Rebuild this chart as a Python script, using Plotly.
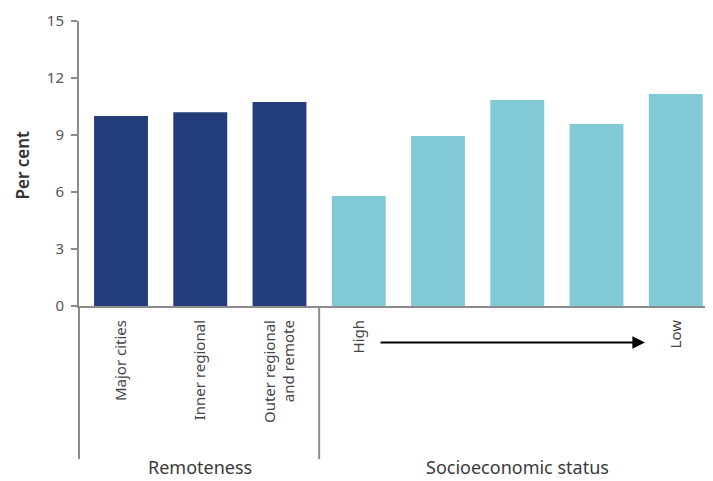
import plotly.graph_objects as go

categories = ["Major cities", "Inner regional", "Outer regional and remote",
              "SES 1", "SES 2", "SES 3", "SES 4", "SES 5"]
tick_labels = ["Major cities", "Inner regional", "Outer regional<br>and remote",
               "High", "", "", "", "Low"]
values = [10.0, 10.2, 10.74, 5.79, 8.95, 10.84, 9.58, 11.16]
groups = ["Remoteness"] * 3 + ["Socioeconomic status"] * 5
group_names = ["Remoteness", "Socioeconomic status"]
group_colors = {"Remoteness": "#233D7B", "Socioeconomic status": "#81C9D4"}
y_ticks = [0, 3, 6, 9, 12, 15]

FONT = "Noto Sans"
GREY = "#8C8C8C"
OFF = 8  # page body margin

fig = go.Figure()
fig.add_trace(go.Bar(
    x=categories, y=values,
    marker=dict(color=[group_colors[g] for g in groups], line=dict(width=0)),
    showlegend=False, hoverinfo="x+y",
))

W, H = 713 - OFF, 481 - OFF
ml, mr, mt, mb = 79 - OFF, 0, 21 - OFF, 175
ph = H - mt - mb
pw = W - ml - mr

def py(page_y):
    return (306 - page_y) / ph

def px(page_x):
    return (page_x - 79) / pw

fig.update_layout(
    width=W, height=H,
    margin=dict(l=ml, r=mr, t=mt, b=mb),
    plot_bgcolor="white", paper_bgcolor="white",
    bargap=0.32,
    font=dict(family=FONT, color="#444444", size=14),
    xaxis=dict(
        type="category",
        range=[-0.53, 7.47],
        tickmode="array", tickvals=categories, ticktext=tick_labels,
        tickangle=-90,
        ticks="outside", ticklen=6, tickcolor="rgba(0,0,0,0)",
        showline=True, linecolor=GREY, linewidth=2,
        showgrid=False, zeroline=False,
        tickfont=dict(size=15, color="#444444"),
    ),
    yaxis=dict(
        range=[0, 15],
        tickvals=y_ticks,
        ticks="outside", ticklen=6, tickcolor=GREY, tickwidth=2,
        ticklabelstandoff=4,
        showline=True, linecolor=GREY, linewidth=2,
        showgrid=False, zeroline=False,
        tickfont=dict(size=15, color="#555555"),
    ),
)

# y-axis title
fig.add_annotation(x=px(OFF), y=py(165), xref="paper", yref="paper",
                   text="Per cent", textangle=-90, showarrow=False,
                   font=dict(size=17, color="#333333", weight=600),
                   xanchor="left", yanchor="middle")

# separator lines extending below the axis
for xv, xref in [(0, "paper"), (2.5, "x")]:
    fig.add_shape(type="line", xref=xref, yref="paper",
                  x0=xv, x1=xv, y0=0, y1=py(459),
                  line=dict(color=GREY, width=2))

# arrow High -> Low
fig.add_annotation(
    x=6.612, y=py(342.5), xref="x", yref="paper",
    ax=3.256, ay=0, axref="x", ayref="pixel",
    text="", showarrow=True, arrowhead=2, arrowsize=1.4, arrowwidth=1.8,
    arrowcolor="#000000",
)

# group labels
fig.add_annotation(x=1, y=py(481), xref="x", yref="paper", text=group_names[0],
                   showarrow=False, font=dict(size=18, color="#3A3A3A"), yanchor="bottom")
fig.add_annotation(x=5.0, y=py(481), xref="x", yref="paper", text=group_names[1],
                   showarrow=False, font=dict(size=18, color="#3A3A3A"), yanchor="bottom")

fig.write_html("out.html")
